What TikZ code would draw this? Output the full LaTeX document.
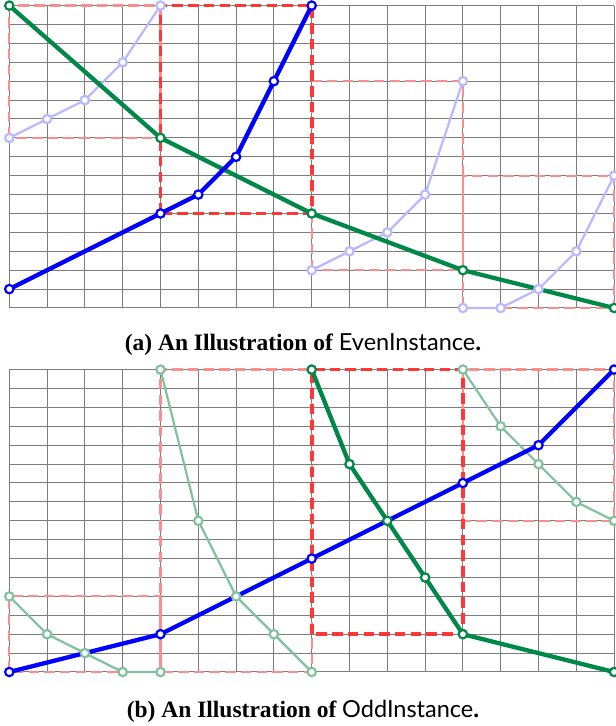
\documentclass[tikz,border=0pt]{standalone}
\usepackage{fontspec}
\setmainfont{Liberation Serif}
\newfontfamily\capsans{Lato}
\definecolor{cgreen}{RGB}{0,136,72}
\definecolor{clgreen}{RGB}{128,194,158}
\definecolor{cblue}{RGB}{0,0,255}
\definecolor{clblue}{RGB}{185,185,255}
\definecolor{cred}{RGB}{255,55,55}
\definecolor{clred}{RGB}{255,140,140}
\definecolor{cgrid}{RGB}{125,125,125}
\tikzset{
  gridline/.style={draw=cgrid, line width=1pt},
  lbox/.style={draw=clred, line width=2.2pt, dash pattern=on 10.5pt off 5.2pt},
  tbox/.style={draw=cred, line width=3.6pt, dash pattern=on 10.5pt off 5.2pt},
  tgreen/.style={draw=cgreen, line width=4.3pt, line join=round},
  tblue/.style={draw=cblue, line width=4.3pt, line join=round},
  lgreen/.style={draw=clgreen, line width=2.2pt, line join=round},
  lblue/.style={draw=clblue, line width=2.2pt, line join=round},
  dot/.style={circle, fill=white, inner sep=0pt, minimum size=8.4pt, line width=2.2pt},
  gdot/.style={dot, draw=cgreen},
  bdot/.style={dot, draw=cblue},
  lgdot/.style={dot, draw=clgreen},
  lbdot/.style={dot, draw=clblue},
  captext/.style={anchor=base, inner sep=0pt, font=\fontsize{23.5}{27}\selectfont\bfseries}
}
\newcommand\mkpts[2]{\foreach \px/\py [count=\k] in {#2} {\coordinate (#1\k) at (\px,\py);}}
\newcommand\mkdots[3]{\foreach \k in {1,...,#2} {\node[#3] (#1n\k) at (#1\k) {};}}
\begin{document}
\begin{tikzpicture}[x=1pt,y=1pt]
\useasboundingbox (0,0) rectangle (616,726);
\fill[white] (0,0) rectangle (616,726);
% ---------------- panel (a)
\begin{scope}[shift={(9.3pt,418pt)}, x=37.8pt, y=18.9pt]
  \foreach \i in {0,...,16} {\draw[gridline] (\i,0) -- (\i,16);}
  \foreach \j in {0,...,16} {\draw[gridline] (0,\j) -- (16,\j);}
  \draw[lbox] (0,9) rectangle (4,16);
  \draw[lbox] (8,2) rectangle (12,12);
  \draw[lbox] (12,0) rectangle (16,7);
  \draw[tbox] (4,5) rectangle (8,16);
  \mkpts{ga}{0/16,4/9,8/5,12/2,16/0}
  \mkpts{ba}{0/1,4/5,5/6,6/8,7/12,8/16}
  \mkpts{pa}{0/9,1/10,2/11,3/13,4/16}
  \mkpts{qa}{8/2,9/3,10/4,11/6,12/12}
  \mkpts{ra}{12/0,13/0,14/1,15/3,16/7}
  \draw[lblue] (pa1) -- (pa2) -- (pa3) -- (pa4) -- (pa5);
  \draw[lblue] (qa1) -- (qa2) -- (qa3) -- (qa4) -- (qa5);
  \draw[lblue] (ra1) -- (ra2) -- (ra3) -- (ra4) -- (ra5);
  \draw[tgreen] (ga1) -- (ga2) -- (ga3) -- (ga4) -- (ga5);
  \draw[tblue] (ba1) -- (ba2) -- (ba3) -- (ba4) -- (ba5) -- (ba6);
  \mkdots{pa}{5}{lbdot}
  \mkdots{qa}{5}{lbdot}
  \mkdots{ra}{5}{lbdot}
  \mkdots{ga}{5}{gdot}
  \mkdots{ba}{6}{bdot}
\end{scope}
% ---------------- panel (b)
\begin{scope}[shift={(9.3pt,54pt)}, x=37.8pt, y=18.9pt]
  \foreach \i in {0,...,16} {\draw[gridline] (\i,0) -- (\i,16);}
  \foreach \j in {0,...,16} {\draw[gridline] (0,\j) -- (16,\j);}
  \draw[lbox] (4,0) rectangle (8,16);
  \draw[lbox] (0,0) rectangle (4,4);
  \draw[lbox] (12,8) rectangle (16,16);
  \draw[tbox] (8,2) rectangle (12,16);
  \mkpts{gb}{8/16,9/11,10/8,11/5,12/2,16/0}
  \mkpts{bb}{0/0,4/2,8/6,12/10,14/12,16/16}
  \mkpts{pb}{4/16,5/8,6/4,7/2,8/0}
  \mkpts{qb}{0/4,1/2,2/1,3/0,4/0}
  \mkpts{rb}{12/16,13/13,14/11,15/9,16/8}
  \draw[lgreen] (pb1) -- (pb2) -- (pb3) -- (pb4) -- (pb5);
  \draw[lgreen] (qb1) -- (qb2) -- (qb3) -- (qb4) -- (qb5);
  \draw[lgreen] (rb1) -- (rb2) -- (rb3) -- (rb4) -- (rb5);
  \draw[tgreen] (gb1) -- (gb2) -- (gb3) -- (gb4) -- (gb5) -- (gb6);
  \draw[tblue] (bb1) -- (bb2) -- (bb3) -- (bb4) -- (bb5) -- (bb6);
  \mkdots{pb}{5}{lgdot}
  \mkdots{qb}{5}{lgdot}
  \mkdots{rb}{5}{lgdot}
  \mkdots{gb}{6}{gdot}
  \mkdots{bb}{6}{bdot}
\end{scope}
% ---------------- captions
\node[captext] (capa) at (303,375) {(a) An Illustration of {\capsans\mdseries EvenInstance}.};
\node[captext] (capb) at (303,9) {(b) An Illustration of {\capsans\mdseries OddInstance}.};
\end{tikzpicture}
\end{document}
